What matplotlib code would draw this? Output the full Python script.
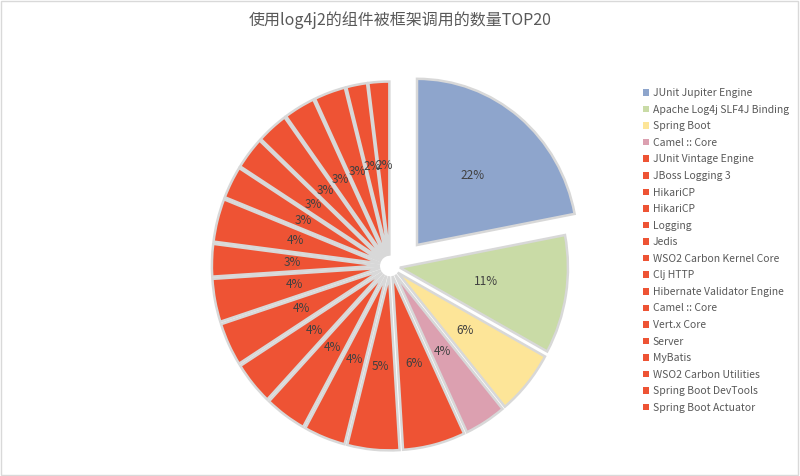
import matplotlib.pyplot as plt
from matplotlib.patches import Patch, Rectangle

plt.rcParams['font.family'] = ['Noto Sans CJK SC', 'DejaVu Sans']

title = '使用log4j2的组件被框架调用的数量TOP20'

components = [
    'JUnit Jupiter Engine', 'Apache Log4j SLF4J Binding', 'Spring Boot',
    'Camel :: Core', 'JUnit Vintage Engine', 'JBoss Logging 3', 'HikariCP',
    'HikariCP', 'Logging', 'Jedis', 'WSO2 Carbon Kernel Core', 'Clj HTTP',
    'Hibernate Validator Engine', 'Camel :: Core', 'Vert.x Core', 'Server',
    'MyBatis', 'WSO2 Carbon Utilities', 'Spring Boot DevTools',
    'Spring Boot Actuator',
]
shares = [22, 11, 6, 4, 6, 5, 4, 4, 4, 4, 4, 3, 4, 3, 3, 3, 3, 3, 2, 2]

first_colors = ['#8ea5cc', '#c9dba6', '#fde598', '#dca0b0']
rest_color = '#ee5334'
colors = first_colors + [rest_color] * (len(shares) - len(first_colors))
# the leading slice is pulled out by hand below
explode = [0.0] + [0.06] * (len(shares) - 1)

fig = plt.figure(figsize=(8, 4.76), dpi=100)
fig.patch.set_facecolor('white')

# square axes centred on the pie; the pie is a touch taller than wide
cx, cy, half = 390, 476 - 266, 200
rx, ry = 168, 174
ax = fig.add_axes([(cx - half) / 800, (cy - half) / 476, 2 * half / 800, 2 * half / 476])

wedges, texts, autotexts = ax.pie(
    shares, colors=colors, explode=explode, startangle=90, counterclock=False,
    autopct=lambda p: f'{p:.0f}%', pctdistance=0.52, radius=1.0,
    wedgeprops=dict(edgecolor='#d8d8d8', linewidth=1.8),
    textprops=dict(color='#404040', fontsize=8.5),
)

# pull the top slice out to the upper right
shift = (27 / rx, 21 / ry)
wedges[0].set_center(shift)
wedges[0].set_radius(0.955)
x0, y0 = autotexts[0].get_position()
autotexts[0].set_position((x0 + shift[0], y0 + shift[1]))

ax.set_aspect('auto')
ax.set_xlim(-half / rx, half / rx)
ax.set_ylim(-half / ry, half / ry)
ax.axis('off')

fig.text(0.5, 1 - 20 / 476, title, ha='center', va='center',
         fontsize=11.5, color='#595959')

handles = [Patch(facecolor=c, edgecolor='none') for c in colors]
fig.legend(handles, components, loc='upper left',
           bbox_to_anchor=(639 / 800, 1 - 84 / 476), frameon=False,
           fontsize=7.5, labelcolor='#595959', handlelength=0.6, handleheight=0.6,
           handletextpad=0.3, labelspacing=0.63, borderaxespad=0)

# thin chart-area border
fig.patches.append(Rectangle((0.001, 0.002), 0.997, 0.996, transform=fig.transFigure,
                             fill=False, edgecolor='#d9d9d9', linewidth=1))

fig.savefig('out.png', dpi=100)
